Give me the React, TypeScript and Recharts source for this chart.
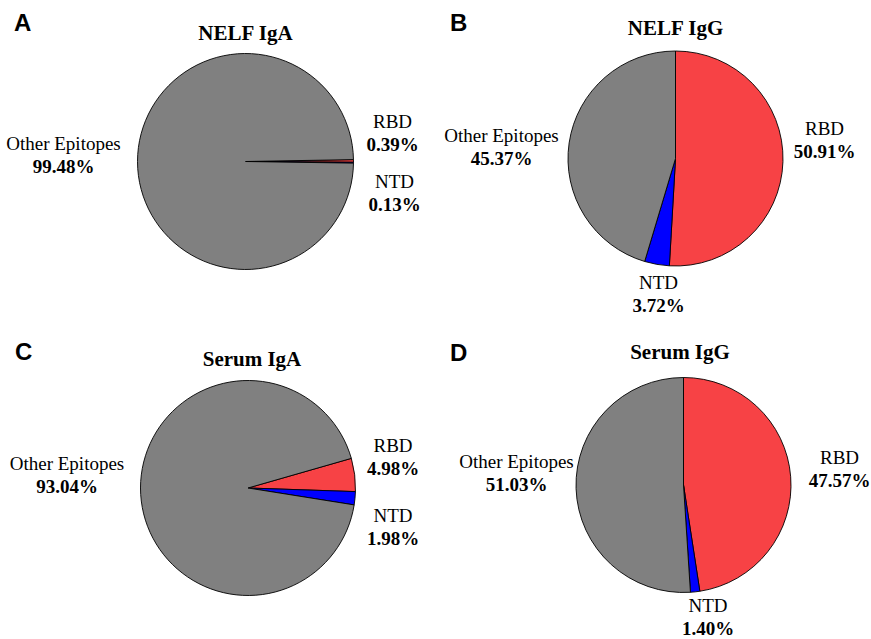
import { PieChart, Pie, Cell } from 'recharts';

const categories = ['RBD', 'NTD', 'Other Epitopes'];
const nelfIgA = [0.39, 0.13, 99.48];
const nelfIgG = [50.91, 3.72, 45.37];
const serumIgA = [4.98, 1.98, 93.04];
const serumIgG = [47.57, 1.4, 51.03];
const panelTitles = ['NELF IgA', 'NELF IgG', 'Serum IgA', 'Serum IgG'];
const panelLetters = ['A', 'B', 'C', 'D'];

const COLORS = ['#f74245', '#0000ff', '#808080'];
const SERIF = '"Liberation Serif", "Times New Roman", serif';
const SANS = '"Liberation Sans", Arial, sans-serif';

// layout only: pie centre/radius/start angle, title + letter spots, label anchors (relative to centre)
const panels = [
  { values: nelfIgA, cx: 245.5, cy: 161.5, r: 108, start: 1, title: [245.5, 40], letter: [14, 31], labels: [[147, -34], [149, 26], [-182, -12]] },
  { values: nelfIgG, cx: 675.5, cy: 158.5, r: 107.5, start: 90, title: [675.5, 35], letter: [450, 31], labels: [[149, -23.5], [-17, 130.5], [-174, -17]] },
  { values: serumIgA, cx: 248, cy: 488, r: 107.5, start: 16, title: [252, 366], letter: [15, 360], labels: [[145, -36], [145, 34], [-181, -18]] },
  { values: serumIgG, cx: 683.5, cy: 485, r: 107.5, start: 90, title: [680, 359], letter: [450, 361], labels: [[156, -21], [24.5, 126.5], [-167, -17.5]] },
];

const LINE_GAP = 23;

function makeLabel(panel: (typeof panels)[number]) {
  return (props: any) => {
    const i = props.index;
    const [dx, dy] = panel.labels[i];
    const x = panel.cx + dx;
    const y = panel.cy + dy;
    return (
      <g key={`lbl-${i}`}>
        <text x={x} y={y} textAnchor="middle" fontFamily={SERIF} fontSize={19} fill="#000">
          {categories[i]}
        </text>
        <text x={x} y={y + LINE_GAP} textAnchor="middle" fontFamily={SERIF} fontSize={19} fontWeight="bold" fill="#000">
          {`${panel.values[i].toFixed(2)}%`}
        </text>
      </g>
    );
  };
}

export default function App() {
  return (
    <div style={{ position: 'absolute', left: 0, top: 0, width: 871, height: 639, background: '#fff' }}>
      <PieChart width={871} height={639} margin={{ top: 0, right: 0, bottom: 0, left: 0 }}>
        {panels.map((p, k) => (
          <Pie
            key={`pie-${k}`}
            data={categories.map((name, i) => ({ name, value: p.values[i] }))}
            dataKey="value"
            nameKey="name"
            cx={p.cx}
            cy={p.cy}
            outerRadius={p.r}
            startAngle={p.start}
            endAngle={p.start - 360}
            stroke="#000"
            strokeWidth={0.9}
            labelLine={false}
            label={makeLabel(p)}
            isAnimationActive={false}
          >
            {categories.map((c, i) => (
              <Cell key={`cell-${c}`} fill={COLORS[i]} />
            ))}
          </Pie>
        ))}
      </PieChart>
      <svg width={871} height={639} style={{ position: 'absolute', left: 0, top: 0, pointerEvents: 'none' }}>
        {panels.map((p, k) => (
          <g key={`t-${k}`}>
            <text x={p.title[0]} y={p.title[1]} textAnchor="middle" fontFamily={SERIF} fontSize={21} fontWeight="bold">
              {panelTitles[k]}
            </text>
            <text x={p.letter[0]} y={p.letter[1]} fontFamily={SANS} fontSize={24} fontWeight="bold">
              {panelLetters[k]}
            </text>
          </g>
        ))}
      </svg>
    </div>
  );
}
